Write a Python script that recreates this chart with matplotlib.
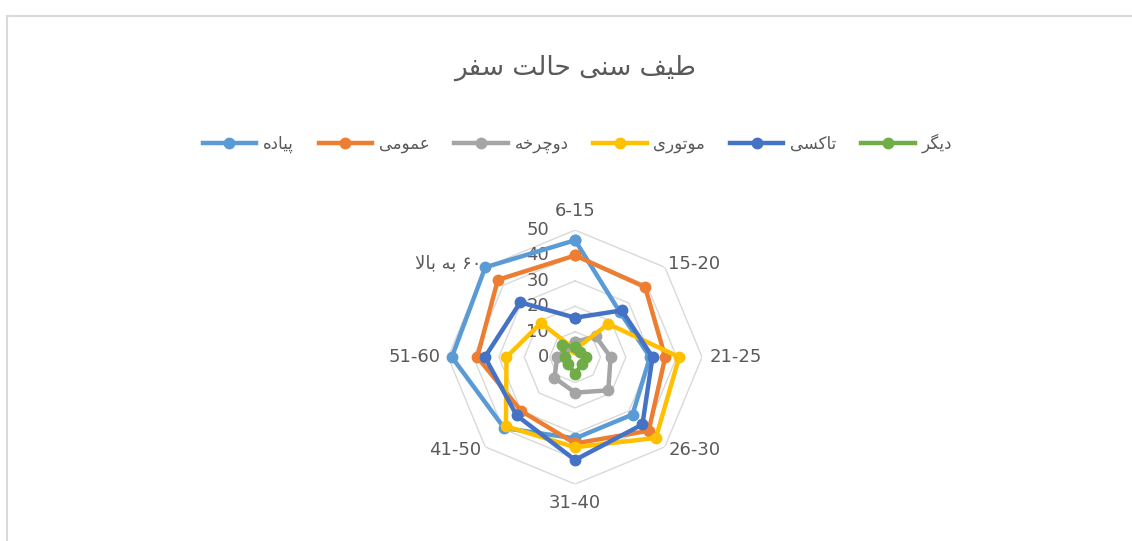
import numpy as np
import matplotlib.pyplot as plt
from matplotlib.lines import Line2D

# contextual forms for the Persian letters used: isolated, final, initial, medial
FORMS = {
    'ا': ('\uFE8D', '\uFE8E', None, None),
    'ب': ('\uFE8F', '\uFE90', '\uFE91', '\uFE92'),
    'پ': ('\uFB56', '\uFB57', '\uFB58', '\uFB59'),
    'ت': ('\uFE95', '\uFE96', '\uFE97', '\uFE98'),
    'چ': ('\uFB7A', '\uFB7B', '\uFB7C', '\uFB7D'),
    'ح': ('\uFEA1', '\uFEA2', '\uFEA3', '\uFEA4'),
    'خ': ('\uFEA5', '\uFEA6', '\uFEA7', '\uFEA8'),
    'د': ('\uFEA9', '\uFEAA', None, None),
    'ر': ('\uFEAD', '\uFEAE', None, None),
    'س': ('\uFEB1', '\uFEB2', '\uFEB3', '\uFEB4'),
    'ط': ('\uFEC1', '\uFEC2', '\uFEC3', '\uFEC4'),
    'ع': ('\uFEC9', '\uFECA', '\uFECB', '\uFECC'),
    'ف': ('\uFED1', '\uFED2', '\uFED3', '\uFED4'),
    'ک': ('\uFB8E', '\uFB8F', '\uFB90', '\uFB91'),
    'گ': ('\uFB92', '\uFB93', '\uFB94', '\uFB95'),
    'ل': ('\uFEDD', '\uFEDE', '\uFEDF', '\uFEE0'),
    'م': ('\uFEE1', '\uFEE2', '\uFEE3', '\uFEE4'),
    'ن': ('\uFEE5', '\uFEE6', '\uFEE7', '\uFEE8'),
    'ه': ('\uFEE9', '\uFEEA', '\uFEEB', '\uFEEC'),
    'و': ('\uFEED', '\uFEEE', None, None),
    'ی': ('\uFEEF', '\uFEF0', '\uFEF3', '\uFEF4'),
}


def shape(text):
    # join letters and put them in visual (left to right) order
    words = []
    for word in text.split(' '):
        if not any(ch in FORMS for ch in word):
            words.append(word)
            continue
        out = []
        i = 0
        while i < len(word):
            ch = word[i]
            prev_joins = i > 0 and FORMS.get(word[i - 1], (None,) * 4)[2] is not None
            if ch == 'ل' and i + 1 < len(word) and word[i + 1] == 'ا':
                out.append('\uFEFC' if prev_joins else '\uFEFB')
                i += 2
                continue
            iso, fin, ini, med = FORMS[ch]
            next_joins = ini is not None and i + 1 < len(word) and word[i + 1] in FORMS
            if prev_joins and next_joins:
                out.append(med)
            elif prev_joins:
                out.append(fin)
            elif next_joins:
                out.append(ini)
            else:
                out.append(iso)
            i += 1
        words.append(''.join(reversed(out)))
    return ' '.join(reversed(words))


title = 'طیف سنی حالت سفر'
categories = ['6-15', '15-20', '21-25', '26-30', '31-40', '41-50', '51-60', '۶۰ به بالا']
series_names = ['پیاده', 'عمومی', 'دوچرخه', 'موتوری', 'تاکسی', 'دیگر']
colors = ['#5B9BD5', '#ED7D31', '#A5A5A5', '#FFC000', '#4472C4', '#70AD47']

piadeh = [46, 25, 29.5, 32, 32, 39.5, 48.5, 50]
omumi = [40, 39, 35.5, 41, 34, 30, 38.5, 43]
docharkheh = [6, 11.5, 14, 18.5, 14, 11.5, 7, 5]
motori = [3, 18.5, 41, 45, 35.5, 38.5, 27, 19]
taxi = [15.5, 26, 30.5, 37.5, 40.5, 32.5, 35.5, 30.5]
digar = [4, 3, 4.5, 4, 6.5, 4, 4, 7]
values = [piadeh, omumi, docharkheh, motori, taxi, digar]

r_ticks = [0, 10, 20, 30, 40, 50]

fig = plt.figure(figsize=(11.32, 5.41), dpi=100)

# chart area border (left and top edges visible)
fig.add_artist(Line2D([7 / 1132, 7 / 1132], [0, 1 - 16 / 541], color='#d9d9d9', lw=1.5))
fig.add_artist(Line2D([7 / 1132, 1], [1 - 16 / 541, 1 - 16 / 541], color='#d9d9d9', lw=1.5))

ax = fig.add_axes([0.3958, 0.1052, 0.2244, 0.4695], projection='polar')
ax.set_theta_offset(np.pi / 2)
ax.set_theta_direction(-1)
ax.set_ylim(0, 50)
ax.grid(False)
ax.spines['polar'].set_visible(False)
ax.set_xticks([])
ax.set_yticks([])
ax.patch.set_alpha(0)

n = len(categories)
angles = np.linspace(0, 2 * np.pi, n, endpoint=False)
closed = np.append(angles, angles[0])

# octagonal gridlines
for r in r_ticks[1:]:
    ax.plot(closed, [r] * (n + 1), color='#d9d9d9', lw=1, zorder=1)

for name, vals, c in zip(series_names, values, colors):
    ax.plot(closed, vals + vals[:1], color=c, lw=3.2, marker='o', markersize=7.5,
            markeredgecolor=c, label=shape(name), zorder=3, clip_on=False)

# radial tick labels to the left of the vertical axis
for r in r_ticks:
    ax.annotate(str(r), xy=(0, r), xytext=(-26, 0), textcoords='offset pixels',
                ha='right', va='center', fontsize=13, color='#595959', zorder=2)

# category labels
for ang, cat in zip(angles, categories):
    deg = np.degrees(ang)
    if deg in (0, 180):
        ha, va, rr = 'center', ('bottom' if deg == 0 else 'top'), 54
    elif deg in (90, 270):
        ha, va, rr = ('left' if deg == 90 else 'right'), 'center', 53
    else:
        ha, va, rr = ('left' if deg < 180 else 'right'), 'center', 52
    ax.text(ang, rr, shape(cat), ha=ha, va=va, fontsize=13, color='#595959')

fig.text(0.508, 1 - 68 / 541, shape(title), ha='center', va='center',
         fontsize=19, color='#595959')

fig.legend(loc='center', bbox_to_anchor=(0.51, 1 - 143 / 541), ncol=6, frameon=False,
           fontsize=12, handlelength=3.2, columnspacing=1.5, handletextpad=0.4,
           labelcolor='#595959')

fig.savefig('out.png', dpi=100)
